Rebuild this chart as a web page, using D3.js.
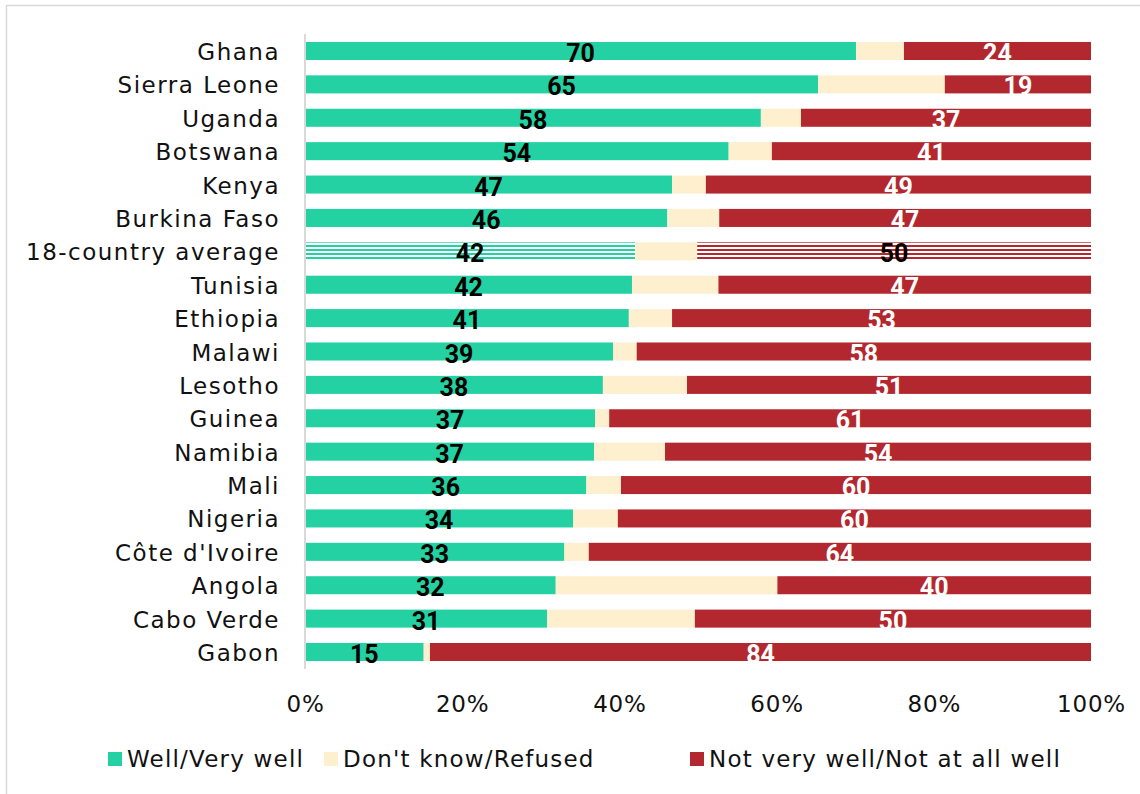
<!DOCTYPE html>
<html>
<head>
<meta charset="utf-8">
<script src="https://cdn.jsdelivr.net/npm/d3@7"></script>
<style>
  body { margin: 0; background: #fff; }
  svg { display: block; font-family: "DejaVu Sans", sans-serif; }
</style>
</head>
<body>
<script>
// Countries, top to bottom
const countries = ["Ghana", "Sierra Leone", "Uganda", "Botswana", "Kenya", "Burkina Faso",
    "18-country average", "Tunisia", "Ethiopia", "Malawi", "Lesotho", "Guinea", "Namibia",
    "Mali", "Nigeria", "Côte d'Ivoire", "Angola", "Cabo Verde", "Gabon"];

// Shares in percent
const wellValues = [70.1, 65.3, 58.0, 53.9, 46.7, 46.1, 42.0, 41.6, 41.2, 39.2, 37.9, 36.9, 36.8,
    35.8, 34.1, 33.0, 31.9, 30.8, 15.1];
const dkValues = [6.1, 16.1, 5.1, 5.5, 4.3, 6.6, 7.9, 11.0, 5.5, 3.0, 10.7, 1.8, 9.0,
    4.4, 5.7, 3.1, 28.2, 18.8, 0.8];
const notWellValues = [23.8, 18.6, 36.9, 40.6, 49.0, 47.3, 50.1, 47.4, 53.3, 57.8, 51.4, 61.3, 54.2,
    59.8, 60.2, 63.9, 39.9, 50.4, 84.1];

const seriesNames = ["Well/Very well", "Don't know/Refused", "Not very well/Not at all well"];
const seriesColors = ["#24d1a2", "#feefcf", "#b3282e"];
const tickValues = [0, 20, 40, 60, 80, 100];
const averageRow = "18-country average";

const width = 1140, height = 794;
const svg = d3.select("body").append("svg")
    .attr("width", width)
    .attr("height", height);

// outer frame (only top and left edges show in the window)
svg.append("rect")
    .attr("x", 6.5).attr("y", 5.5)
    .attr("width", 1200).attr("height", 900)
    .attr("fill", "none")
    .attr("stroke", "#d9d9d9")
    .attr("stroke-width", 1.5);

// horizontal stripes for the average row
const defs = svg.append("defs");
seriesColors.forEach((c, i) => {
    const p = defs.append("pattern")
        .attr("id", "stripe" + i)
        .attr("patternUnits", "userSpaceOnUse")
        .attr("width", 8).attr("height", 4)
        .attr("y", 1);
    p.append("rect").attr("width", 8).attr("height", 4).attr("fill", "#fff");
    p.append("rect").attr("width", 8).attr("height", 2).attr("fill", c);
});

const x = d3.scaleLinear().domain([0, 100]).range([305, 1091]);
const y = d3.scaleBand().domain(countries).range([34.3, 668.7])
    .paddingInner(0.46).paddingOuter(0.23);

const rows = countries.map((c, i) => ({
    country: c,
    values: [wellValues[i], dkValues[i], notWellValues[i]]
}));

const stack = rows.map(r => {
    let acc = 0;
    return r.values.map((v, k) => {
        const seg = { country: r.country, k, v, x0: acc, x1: acc + v };
        acc += v;
        return seg;
    });
}).flat();

svg.append("g")
    .selectAll("rect")
    .data(stack)
    .join("rect")
    .attr("x", d => x(d.x0))
    .attr("width", d => x(d.x1) - x(d.x0))
    .attr("y", d => y(d.country))
    .attr("height", y.bandwidth())
    .attr("fill", d => d.country === averageRow && d.k !== 1 ? `url(#stripe${d.k})` : seriesColors[d.k]);

// axis line on the left
svg.append("line")
    .attr("x1", x(0)).attr("x2", x(0))
    .attr("y1", 34).attr("y2", 669)
    .attr("stroke", "#d9d9d9")
    .attr("stroke-width", 2);

// value labels (well and not well)
svg.append("g")
    .selectAll("text")
    .data(stack.filter(d => d.k !== 1))
    .join("text")
    .attr("x", d => x((d.x0 + d.x1) / 2))
    .attr("y", d => y(d.country) + y.bandwidth() / 2 + 11)
    .attr("text-anchor", "middle")
    .attr("font-family", "Roboto, sans-serif")
    .attr("font-size", 25)
    .attr("font-weight", "bold")
    .attr("fill", d => d.k === 0 || d.country === averageRow ? "#000" : "#fff")
    .text(d => Math.round(d.v));

// country labels
svg.append("g")
    .selectAll("text")
    .data(countries)
    .join("text")
    .attr("x", 280)
    .attr("y", d => y(d) + y.bandwidth() / 2 + 9)
    .attr("text-anchor", "end")
    .attr("font-size", 23)
    .attr("letter-spacing", 1.5)
    .attr("fill", "#111")
    .text(d => d);

// x axis
const xAxis = svg.append("g")
    .attr("transform", "translate(0,712)")
    .call(d3.axisBottom(x).tickValues(tickValues).tickFormat(d => d + "%").tickSize(0))
    .call(g => g.select(".domain").remove());
xAxis.selectAll("text")
    .attr("dy", 0)
    .attr("y", 0)
    .attr("font-family", "DejaVu Sans, sans-serif")
    .attr("font-size", 23)
    .attr("letter-spacing", 0.8)
    .attr("fill", "#111");

// legend
const legendX = [108, 324, 690];
const legend = svg.append("g")
    .selectAll("g")
    .data(seriesNames)
    .join("g")
    .attr("transform", (d, i) => `translate(${legendX[i]},752)`);
legend.append("rect")
    .attr("width", 14).attr("height", 14)
    .attr("fill", (d, i) => seriesColors[i]);
legend.append("text")
    .attr("x", 19).attr("y", 15)
    .attr("font-size", 23)
    .attr("letter-spacing", 1.2)
    .attr("fill", "#111")
    .text(d => d);
</script>
</body>
</html>
